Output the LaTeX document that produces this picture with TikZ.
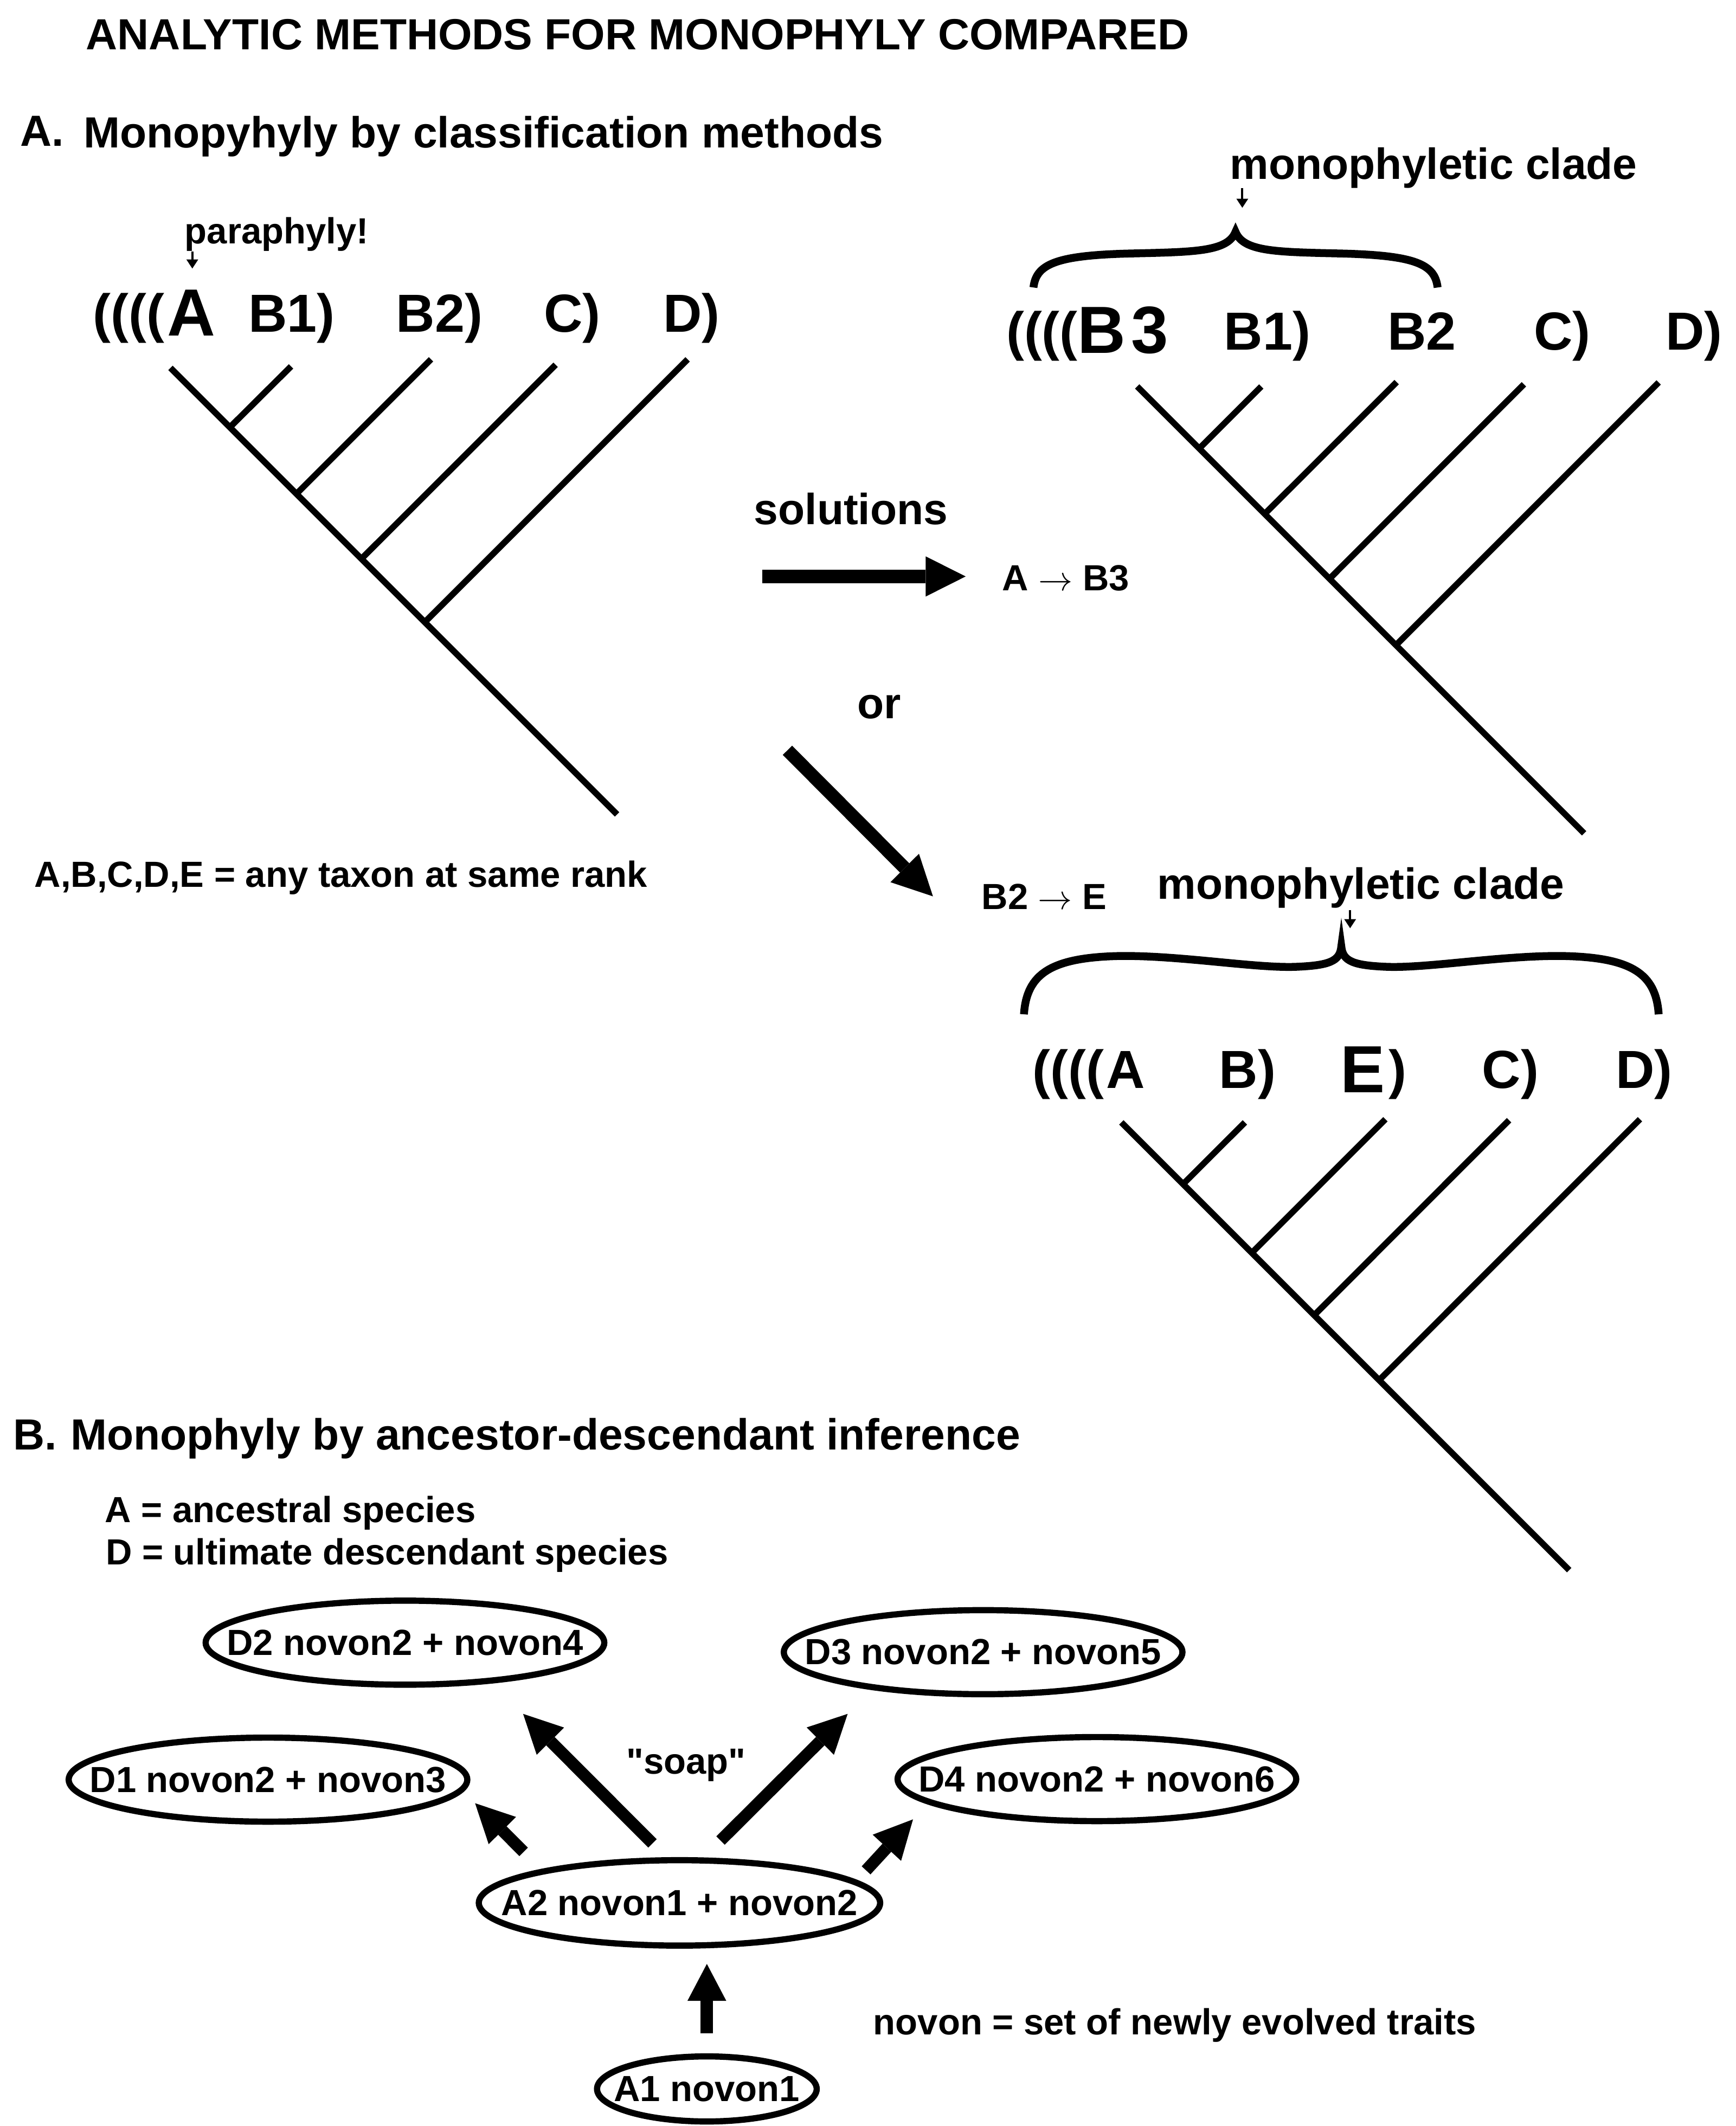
\documentclass[tikz,border=0pt]{standalone}
\usepackage{fontspec}
\setmainfont{Liberation Sans}
\newfontfamily\plainfont{Liberation Sans}
\usetikzlibrary{arrows.meta,shapes.geometric}
\begin{document}
\begin{tikzpicture}[x=0.02cm,y=-0.02cm,
  every node/.style={inner sep=0pt,outer sep=0pt},
  txt/.style={anchor=base west},
  head/.style={font=\fontsize{18.3}{20}\selectfont\bfseries},
  lab/.style={font=\fontsize{22.5}{24}\selectfont\bfseries},
  big/.style={font=\fontsize{28}{30}\selectfont\bfseries},
  note/.style={font=\fontsize{15.25}{17}\selectfont\bfseries},
  branch/.style={line width=2.6pt},
  bracestroke/.style={line width=3.3pt},
  smallarr/.style={line width=0.9pt,-{Triangle[length=3.8pt,width=5pt,line width=0pt]}},
  fatA/.style={line width=5.5pt,-{Triangle[length=16.8pt,width=16.9pt,line width=0pt]}},
  fatB/.style={line width=5pt,-{Triangle[length=16.2pt,width=16.2pt,line width=0pt]}},
  fatC/.style={line width=5.3pt,-{Triangle[length=15.5pt,width=16.3pt,line width=0pt]}},
  ell/.style={ellipse,draw,line width=2.6pt,inner sep=0pt,font=\fontsize{15.25}{17}\selectfont\bfseries},
  ellD/.style={ell,minimum width=5.88cm,minimum height=1.24cm},
]
\fill[white] (0,0) rectangle (1280,1567.85);
\useasboundingbox (0,0) rectangle (1280,1567.85);

% ---------- headings ----------
\node[head,txt] (title) at (63.5,36.7) {ANALYTIC METHODS FOR MONOPHYLY COMPARED};
\node[head,txt] (secA) at (15,107.6) {A.};
\node[head,txt] (secAt) at (61.7,109) {Monopyhyly by classification methods};

% ---------- tree 1 ----------
\node[note,txt] (para) at (136.3,179.5) {paraphyly!};
\coordinate (pa1) at (141.8,185.5);
\coordinate (pa2) at (141.8,198);
\draw[smallarr] (pa1) -- (pa2);

\node[lab,txt] (t1p) at (68.7,244.7) {((((};
\node[big,txt] (t1A) at (123.5,247.8) {A};
\node[lab,txt] (t1b1) at (183.1,244.7) {B1)};
\node[lab,txt] (t1b2) at (292.1,244.7) {B2)};
\node[lab,txt] (t1c) at (401,244.7) {C)};
\node[lab,txt] (t1d) at (489,244.7) {D)};

\coordinate (r1) at (125.7,271.3);
\coordinate (r1e) at (455,600.6);
\coordinate (b11) at (214.6,270.2); \coordinate (j11) at (169.5,315.1);
\coordinate (b12) at (317.8,265);   \coordinate (j12) at (218.6,364.2);
\coordinate (b13) at (409.7,269);   \coordinate (j13) at (266.5,412.1);
\coordinate (b14) at (507,265);     \coordinate (j14) at (313.2,458.8);
\draw[branch] (r1) -- (r1e);
\draw[branch] (b11) -- (j11);
\draw[branch] (b12) -- (j12);
\draw[branch] (b13) -- (j13);
\draw[branch] (b14) -- (j14);

\node[note,txt] (rank) at (25.5,654) {A,B,C,D,E = any taxon at same rank};

% ---------- solutions ----------
\node[head,txt] (sol) at (556,386.8) {solutions};
\coordinate (s1a) at (562,425.1);
\coordinate (s1b) at (712,425.1);
\draw[fatA] (s1a) -- (s1b);
\node[note,txt] (sol1) at (738.8,435.7) {A $\rightarrow$ B3};
\node[head,txt] (or) at (632.3,530) {or};
\coordinate (s2a) at (580.6,553.3);
\coordinate (s2b) at (687.9,661);
\draw[fatA] (s2a) -- (s2b);
\node[note,txt] (sol2) at (723.8,670.7) {B2 $\rightarrow$ E};

% ---------- tree 2 ----------
\node[head,txt] (mc2) at (907,132) {monophyletic clade};
\coordinate (m2a) at (916,138.9);
\coordinate (m2b) at (916,153.2);
\draw[smallarr] (m2a) -- (m2b);
\draw[bracestroke] (762,212) .. controls (764,195) and (778,188.5) .. (831,187)
  .. controls (880,185.8) and (905,186) .. (911,171)
  .. controls (917,186) and (942,185.8) .. (991,187)
  .. controls (1044,188.5) and (1058,195) .. (1060,212);

\node[lab,txt] (t2p) at (742,258.2) {((((};
\node[big,txt] (t2B) at (794.7,260.5) {B};
\node[big,txt] (t2three) at (834,260.5) {3};
\node[lab,txt] (t2b1) at (902.5,258.2) {B1)};
\node[lab,txt] (t2b2) at (1023.1,258.2) {B2};
\node[lab,txt] (t2c) at (1131,258.2) {C)};
\node[lab,txt] (t2d) at (1228.1,258.2) {D)};

\coordinate (r2) at (838.5,285);
\coordinate (r2e) at (1168,614.5);
\coordinate (b21) at (930,285);     \coordinate (j21) at (884.25,330.75);
\coordinate (b22) at (1029.8,281.8);\coordinate (j22) at (932.5,379);
\coordinate (b23) at (1123.6,283.4);\coordinate (j23) at (980.3,426.8);
\coordinate (b24) at (1223,282);    \coordinate (j24) at (1029.3,475.8);
\draw[branch] (r2) -- (r2e);
\draw[branch] (b21) -- (j21);
\draw[branch] (b22) -- (j22);
\draw[branch] (b23) -- (j23);
\draw[branch] (b24) -- (j24);

% ---------- tree 3 ----------
\node[head,txt] (mc3) at (853.4,663) {monophyletic clade};
\coordinate (m3a) at (995.5,671);
\coordinate (m3b) at (995.5,684.5);
\draw[smallarr] (m3a) -- (m3b);
\draw[bracestroke] (755,748) .. controls (757,718) and (775,706) .. (826,705)
  .. controls (870,704.5) and (925,714) .. (955,713)
  .. controls (980,712) and (988,709) .. (989,698)
  .. controls (990,709) and (998,712) .. (1023,713)
  .. controls (1053,714) and (1108,704.5) .. (1152,705)
  .. controls (1203,706) and (1221,718) .. (1223,748);

\node[lab,txt] (t3p) at (761.4,802.4) {((((};
\node[lab,txt] (t3A) at (815.5,802.6) {A};
\node[lab,txt] (t3B) at (898.9,802.4) {B)};
\node[big,txt] (t3E) at (988.3,805.5) {E};
\node[lab,txt] (t3Ep) at (1023.8,802.4) {)};
\node[lab,txt] (t3c) at (1092.8,802.4) {C)};
\node[lab,txt] (t3d) at (1191.3,802.4) {D)};

\coordinate (r3) at (826.8,827.7);
\coordinate (r3e) at (1157,1157.9);
\coordinate (b31) at (917.9,827.7);  \coordinate (j31) at (872.35,873.2);
\coordinate (b32) at (1021.5,825.4); \coordinate (j32) at (923,923.9);
\coordinate (b33) at (1112.7,826.1); \coordinate (j33) at (969,969.9);
\coordinate (b34) at (1209.2,825.4); \coordinate (j34) at (1016.9,1017.8);
\draw[branch] (r3) -- (r3e);
\draw[branch] (b31) -- (j31);
\draw[branch] (b32) -- (j32);
\draw[branch] (b33) -- (j33);
\draw[branch] (b34) -- (j34);

% ---------- section B ----------
\node[head,txt] (secB) at (9.7,1069) {B.};
\node[head,txt] (secBt) at (52,1069) {Monophyly by ancestor-descendant inference};
\node[note,txt] (defA) at (77.5,1122.6) {A = ancestral species};
\node[note,txt] (defD) at (78,1153.7) {D = ultimate descendant species};

\node[ellD] (D2) at (298.6,1211.4) {\makebox[0pt]{D2 novon2 + novon4}};
\node[ellD] (D3) at (724.9,1218.4) {\makebox[0pt]{D3 novon2 + novon5}};
\node[ellD] (D1) at (197.6,1312.4) {\makebox[0pt]{D1 novon2 + novon3}};
\node[ellD] (D4) at (808.8,1312) {\makebox[0pt]{D4 novon2 + novon6}};
\node[ell,minimum width=5.92cm,minimum height=1.26cm] (A2) at (501,1403.3) {\makebox[0pt]{A2 novon1 + novon2}};
\node[ell,minimum width=3.24cm,minimum height=0.96cm] (A1) at (521.2,1540.5) {\makebox[0pt]{A1 novon1}};

\node[note,txt] (soap) at (462,1308.2) {\plainfont\bfseries "soap"};
\node[note,txt] (novon) at (644,1500.6) {novon = set of newly evolved traits};

\coordinate (a1t) at ([shift={(-114.9,-37.6)}]A2.center);
\coordinate (a1h) at ([shift={(152.7,17.4)}]D1.center);
\coordinate (a2t) at ([shift={(-19.9,-43.9)}]A2.center);
\coordinate (a2h) at ([shift={(87.1,52.5)}]D2.center);
\coordinate (a3t) at ([shift={(30.3,-46)}]A2.center);
\coordinate (a3h) at ([shift={(-99.9,45.5)}]D3.center);
\coordinate (a4t) at ([shift={(137.6,-24)}]A2.center);
\coordinate (a4h) at ([shift={(-135.6,29.7)}]D4.center);
\coordinate (a0t) at ([shift={(0,-41)}]A1.center);
\coordinate (a0h) at ([shift={(20.2,45)}]A2.center);
\draw[fatB] (a1t) -- (a1h);
\draw[fatB] (a2t) -- (a2h);
\draw[fatB] (a3t) -- (a3h);
\draw[fatB] (a4t) -- (a4h);
\draw[fatC] (a0t) -- (a0h);
\end{tikzpicture}
\end{document}
